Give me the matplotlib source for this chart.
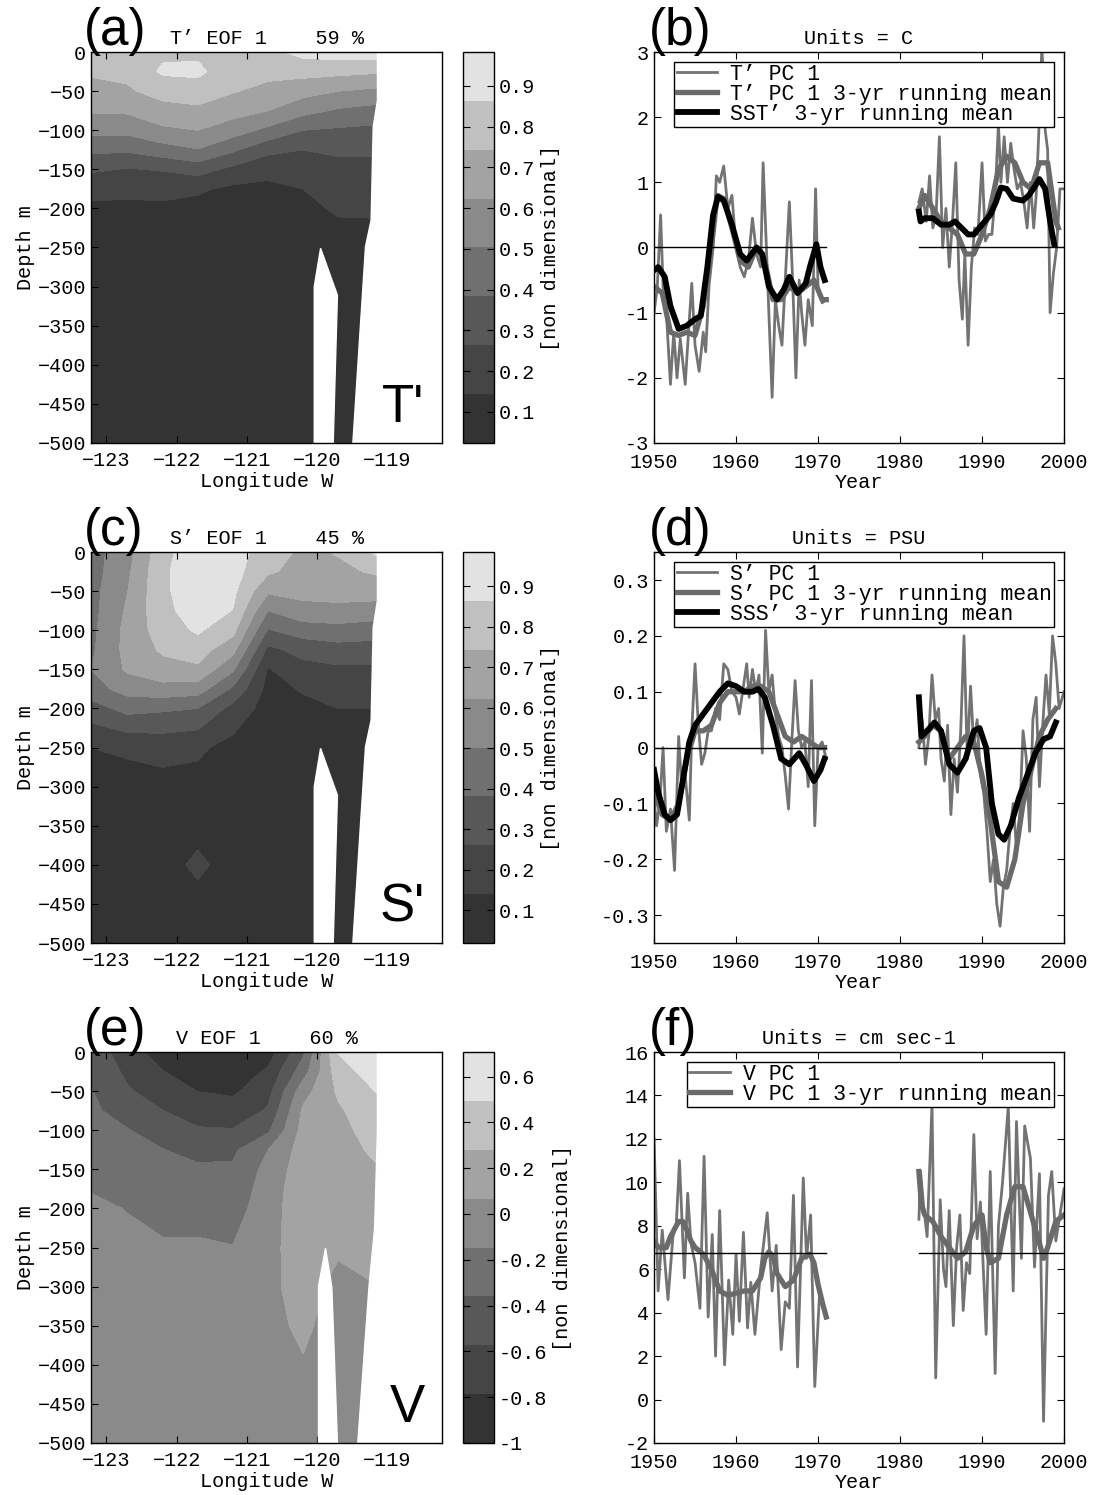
import numpy as np
import matplotlib
matplotlib.use('Agg')
import matplotlib.pyplot as plt

plt.rcParams['font.family'] = ['Liberation Mono', 'DejaVu Sans Mono']
plt.rcParams['font.size'] = 14.5
plt.rcParams['axes.linewidth'] = 1.0

# ---------------- secciones (EOF 1) ----------------
lon = [-123.22, -122.7, -122.2, -121.7, -121.2, -120.7, -120.2, -119.7, -119.1]
dep = [0, -25, -50, -75, -100, -125, -150, -175, -200, -250, -300, -350, -400, -450, -500]

# columnas por longitud, filas por profundidad
eof_t = np.array([
    [.80, .759, .703, .639, .540, .411, .280, .182, .12, .07, .05, .045, .04, .035, .03],
    [.81, .773, .727, .641, .538, .402, .257, .171, .12, .07, .05, .045, .04, .035, .03],
    [.84, .881, .789, .698, .601, .453, .272, .182, .12, .07, .05, .045, .04, .035, .03],
    [.84, .890, .805, .718, .624, .498, .314, .160, .11, .07, .05, .045, .04, .035, .03],
    [.82, .785, .751, .671, .559, .404, .234, .12, .09, .06, .05, .045, .04, .035, .03],
    [.83, .776, .710, .624, .474, .297, .175, .12, .10, .07, .05, .045, .04, .035, .03],
    [.90, .784, .664, .542, .384, .264, .204, .144, .12, .08, .06, .045, .04, .035, .03],
    [.92, .776, .624, .488, .367, .281, .233, .195, .156, .10, .07, .05, .04, .035, .03],
    [.93, .757, .594, .456, .354, .280, .234, .197, .159, .10, .07, .05, .04, .035, .03],
]).T

eof_s = np.array([
    [.45, .45, .46, .46, .47, .48, .50, .45, .33, .14, .08, .07, .06, .06, .05],
    [.58, .60, .62, .64, .66, .66, .64, .55, .42, .16, .09, .08, .07, .06, .05],
    [.82, .84, .84, .83, .80, .76, .70, .58, .40, .18, .10, .09, .08, .07, .06],
    [.95, .95, .94, .92, .88, .80, .72, .56, .38, .16, .10, .09, .17, .09, .07],
    [.92, .91, .89, .86, .78, .66, .52, .36, .22, .10, .08, .08, .08, .07, .06],
    [.80, .76, .64, .50, .37, .23, .13, .10, .09, .07, .06, .06, .05, .05, .05],
    [.72, .70, .66, .58, .44, .30, .22, .15, .11, .08, .06, .05, .05, .05, .05],
    [.75, .72, .68, .58, .46, .33, .24, .18, .14, .10, .07, .06, .05, .05, .05],
    [.90, .76, .68, .56, .44, .32, .24, .18, .14, .10, .07, .06, .05, .05, .05],
]).T

eof_v = np.array([
    [-.45, -.40, -.35, -.32, -.30, -.28, -.25, -.16, -.10, -.06, -.05, -.05, -.04, -.04, -.04],
    [-.68, -.62, -.55, -.45, -.35, -.30, -.25, -.20, -.155, -.09, -.06, -.05, -.05, -.04, -.04],
    [-.90, -.78, -.68, -.57, -.46, -.355, -.32, -.28, -.22, -.12, -.08, -.06, -.05, -.05, -.04],
    [-.98, -.90, -.79, -.68, -.55, -.42, -.33, -.29, -.22, -.12, -.08, -.06, -.05, -.05, -.04],
    [-1.0, -.93, -.82, -.70, -.56, -.40, -.33, -.29, -.24, -.14, -.09, -.06, -.05, -.05, -.04],
    [-.90, -.75, -.65, -.55, -.40, -.15, -.08, -.04, -.02, 0.0, .01, 0.0, -.02, -.04, -.05],
    [-.40, -.25, -.02, .10, .14, .16, .18, .19, .19, .18, .16, .11, .05, .02, 0.0],
    [.50, .40, .31, .25, .22, .20, .18, .16, .15, .10, 0.0, -.03, -.05, -.05, -.05],
    [.70, .62, .52, .45, .38, .33, .275, .24, .21, .12, .067, .03, 0.0, -.02, -.03],
]).T

rango_t = (0.024, 0.983)
rango_s = (0.019, 0.984)
rango_v = (-1.0, 0.707)
ticks_cb_ts = [0.1, 0.2, 0.3, 0.4, 0.5, 0.6, 0.7, 0.8, 0.9]
ticks_cb_v = [-1, -0.8, -0.6, -0.4, -0.2, 0, 0.2, 0.4, 0.6]

# fondo (costa y canal) en blanco
costa_lon = [-119.14, -119.14, -119.20, -119.23, -119.31, -119.49, -118.0, -118.0]
costa_dep = [0, -62, -96, -215, -249, -500, -500, 0]
canal_lon = [-120.04, -120.04, -119.95, -119.71, -119.77]
canal_dep = [-500, -300, -251, -311, -500]
costa_lon_v = [-119.14, -119.14, -119.18, -119.26, -119.42, -118.0, -118.0]
costa_dep_v = [0, -100, -225, -300, -500, -500, 0]
canal_lon_v = [-119.98, -119.98, -119.88, -119.79, -119.71]
canal_dep_v = [-500, -300, -251, -300, -500]

grises = ['#333333', '#454545', '#585858', '#707070', '#8a8a8a', '#a3a3a3', '#c0c0c0', '#e2e2e2']

# ---------------- series temporales (PC 1) ----------------
t_raw1 = [1950.0, 1950.4, 1950.8, 1951.1, 1951.5, 1952.0, 1952.4, 1952.8, 1953.2, 1953.8, 1954.2,
          1954.6, 1955.0, 1955.5, 1956.0, 1956.3, 1956.7, 1957.2, 1957.6, 1958.0, 1958.5, 1959.0,
          1959.5, 1960.0, 1960.5, 1961.0, 1961.5, 1962.0, 1962.5, 1963.0, 1963.3, 1963.7, 1964.0,
          1964.4, 1964.8, 1965.2, 1965.6, 1966.0, 1966.5, 1966.9, 1967.3, 1967.7, 1968.0, 1968.4,
          1968.8, 1969.3, 1969.7, 1970.0, 1970.5, 1971.0]
T_raw1 = [-1.0, -0.6, 0.5, -0.6, -1.0, -2.1, -1.3, -2.0, -1.4, -2.1, -1.3, -0.55, -1.5, -1.9,
          -1.3, -1.6, -0.6, 0.0, 1.1, 1.0, 1.25, 0.6, 0.8, 0.0, -0.3, -0.45, -0.2, 0.45, -0.1,
          -0.3, 1.3, 0.0, -1.0, -2.3, -0.8, -1.2, -1.5, -0.5, 0.7, -0.5, -2.0, -0.5, -1.0, -1.5,
          -0.8, -1.2, 0.9, -0.6, -0.85, -0.8]
t_raw2 = [1982.3, 1982.7, 1983.2, 1983.6, 1984.0, 1984.4, 1984.8, 1985.2, 1985.6, 1986.0,
          1986.4, 1986.8, 1987.2, 1987.6, 1987.9, 1988.3, 1988.7, 1989.1, 1989.5, 1990.0,
          1990.4, 1990.8, 1991.2, 1991.6, 1992.0, 1992.3, 1992.7, 1993.1, 1993.5, 1993.9,
          1994.3, 1994.7, 1995.1, 1995.5, 1995.9, 1996.3, 1996.6, 1997.0, 1997.3, 1997.7,
          1998.0, 1998.3, 1998.7, 1999.1, 1999.5, 2000.0]
T_raw2 = [0.7, 0.9, 0.4, 1.1, 0.3, 0.5, 1.7, 0.0, 0.6, -0.3, 0.4, 1.3, -0.5, -1.1, -0.1, -1.5,
          -0.3, 0.3, 0.2, 1.3, 0.1, 0.2, 0.2, 0.8, 1.9, 1.0, 1.7, 1.0, 1.6, 1.2, 0.9, 1.0, 0.7,
          0.3, 1.0, 0.3, 0.8, 2.0, 3.1, 1.8, 1.5, -1.0, -0.4, 0.0, 0.9, 0.9]

t_rm1 = [1950.0, 1951.0, 1952.0, 1953.0, 1954.0, 1955.0, 1956.0, 1957.0, 1957.7, 1958.5, 1959.5,
         1960.5, 1961.5, 1962.5, 1963.5, 1964.5, 1965.5, 1966.5, 1967.5, 1968.5, 1969.5, 1970.5,
         1971.0]
T_rm1 = [-0.6, -0.7, -1.3, -1.35, -1.3, -1.35, -0.9, 0.0, 0.8, 0.75, 0.3, -0.2, -0.3, 0.0, -0.2,
         -0.8, -0.8, -0.6, -0.7, -0.6, -0.5, -0.8, -0.8]
t_rm2 = [1982.3, 1983.0, 1984.0, 1985.0, 1986.0, 1987.0, 1988.0, 1989.0, 1990.0, 1991.0, 1992.0,
         1993.0, 1994.0, 1995.0, 1996.0, 1997.0, 1998.0, 1999.0, 1999.3]
T_rm2 = [0.6, 0.8, 0.6, 0.4, 0.3, 0.2, -0.1, -0.1, 0.2, 0.6, 1.2, 1.4, 1.3, 1.0, 0.9, 1.3, 1.3,
         0.4, 0.3]

t_sst1 = [1950.0, 1950.5, 1951.3, 1952.0, 1953.0, 1954.0, 1955.0, 1955.7, 1956.5, 1957.2, 1957.8,
          1958.5, 1959.5, 1960.5, 1961.3, 1962.5, 1963.2, 1964.0, 1965.0, 1965.8, 1966.5, 1967.5,
          1968.5, 1969.0, 1969.8, 1970.3, 1970.8]
SST_rm1 = [-0.35, -0.3, -0.45, -0.9, -1.25, -1.2, -1.1, -1.05, -0.3, 0.5, 0.78, 0.72, 0.35, -0.1,
           -0.2, 0.0, -0.1, -0.6, -0.8, -0.65, -0.45, -0.7, -0.55, -0.3, 0.05, -0.3, -0.5]
t_sst2 = [1982.3, 1982.5, 1983.0, 1984.0, 1985.0, 1986.0, 1986.7, 1987.5, 1988.3, 1989.0, 1990.0,
          1991.0, 1991.7, 1992.3, 1993.0, 1993.8, 1995.0, 1995.7, 1996.5, 1997.0, 1997.7, 1998.3,
          1998.8]
SST_rm2 = [0.55, 0.4, 0.45, 0.45, 0.35, 0.35, 0.4, 0.3, 0.2, 0.2, 0.35, 0.5, 0.7, 0.92, 0.9, 0.75,
           0.72, 0.8, 0.95, 1.05, 0.9, 0.4, 0.05]

t_sraw1 = [1950.0, 1950.3, 1950.7, 1951.1, 1951.5, 1952.0, 1952.5, 1953.0, 1953.4, 1953.8, 1954.3,
           1954.6, 1955.0, 1955.4, 1955.8, 1956.2, 1956.6, 1957.0, 1957.5, 1958.0, 1958.5, 1959.0,
           1959.5, 1960.0, 1960.4, 1960.8, 1961.3, 1961.6, 1962.0, 1962.4, 1962.8, 1963.2, 1963.6,
           1964.0, 1964.4, 1964.8, 1965.2, 1965.6, 1966.0, 1966.4, 1966.8, 1967.2, 1967.6, 1968.0,
           1968.4, 1968.8, 1969.2, 1969.6, 1970.0, 1970.5, 1971.0]
S_raw1 = [-0.09, -0.14, -0.1, 0.0, -0.15, -0.11, -0.22, 0.02, -0.08, -0.05, -0.13, 0.03, 0.15,
          0.04, -0.03, -0.01, 0.03, 0.03, 0.07, 0.05, 0.15, 0.14, 0.1, 0.09, 0.06, 0.1, 0.15, 0.09,
          0.14, 0.1, 0.13, -0.01, 0.21, 0.1, 0.13, 0.06, 0.02, 0.0, -0.05, -0.11, 0.01, 0.12, 0.03,
          0.0, 0.01, -0.07, 0.12, -0.14, 0.0, 0.01, -0.02]
t_sraw2 = [1982.3, 1982.7, 1983.1, 1983.5, 1983.9, 1984.3, 1984.7, 1985.0, 1985.4, 1985.8, 1986.2,
           1986.6, 1987.0, 1987.4, 1987.8, 1988.2, 1988.6, 1989.0, 1989.4, 1989.8, 1990.2, 1990.6,
           1991.0, 1991.4, 1991.8, 1992.2, 1992.6, 1993.0, 1993.4, 1993.8, 1994.2, 1994.6, 1995.0,
           1995.4, 1995.8, 1996.2, 1996.6, 1997.0, 1997.4, 1997.8, 1998.2, 1998.6, 1999.0, 1999.4,
           2000.0]
S_raw2 = [0.0, 0.05, -0.03, 0.02, 0.13, 0.05, 0.07, -0.02, -0.06, 0.04, -0.12, -0.02, -0.08, 0.03,
          0.2, -0.02, 0.11, 0.0, 0.05, -0.05, -0.08, -0.15, -0.24, -0.2, -0.28, -0.32, -0.25, -0.22,
          -0.15, -0.1, -0.18, -0.12, 0.03, -0.02, -0.15, 0.05, 0.09, -0.07, 0.04, 0.13, 0.06, 0.2,
          0.15, 0.07, 0.1]

t_srm1 = [1950.0, 1951.0, 1952.0, 1953.0, 1954.0, 1955.0, 1956.0, 1957.0, 1958.0, 1959.0, 1960.0,
          1961.0, 1962.0, 1963.0, 1964.0, 1965.0, 1966.0, 1967.0, 1968.0, 1969.0, 1970.0, 1970.8]
S_rm1 = [-0.08, -0.12, -0.13, -0.1, -0.02, 0.03, 0.03, 0.04, 0.08, 0.1, 0.1, 0.1, 0.11, 0.11, 0.1,
         0.06, 0.02, 0.01, 0.02, 0.01, 0.0, 0.0]
t_srm2 = [1982.3, 1983.0, 1984.0, 1985.0, 1986.0, 1987.0, 1988.0, 1989.0, 1990.0, 1991.0, 1992.0,
          1993.0, 1994.0, 1995.0, 1996.0, 1997.0, 1998.0, 1999.0]
S_rm2 = [0.01, 0.02, 0.04, 0.03, -0.02, 0.0, 0.02, 0.01, -0.05, -0.13, -0.24, -0.25, -0.2, -0.1,
         -0.04, 0.02, 0.05, 0.07]

t_sss1 = [1950.0, 1950.5, 1951.3, 1952.0, 1952.8, 1953.5, 1954.3, 1955.0, 1956.0, 1957.0, 1958.0,
          1959.0, 1960.0, 1961.0, 1962.0, 1962.7, 1963.5, 1964.5, 1965.5, 1966.5, 1967.7, 1968.5,
          1969.5, 1970.3, 1970.8]
SSS_rm1 = [-0.04, -0.08, -0.12, -0.13, -0.12, -0.06, 0.01, 0.04, 0.06, 0.08, 0.1, 0.115, 0.11, 0.1,
           0.1, 0.105, 0.09, 0.04, -0.02, -0.03, -0.01, -0.03, -0.06, -0.04, -0.02]
t_sss2 = [1982.3, 1982.6, 1983.3, 1984.2, 1985.0, 1986.0, 1987.0, 1988.0, 1989.0, 1989.7, 1990.5,
          1991.2, 1992.0, 1992.7, 1993.5, 1994.5, 1995.5, 1996.5, 1997.5, 1998.3, 1999.0]
SSS_rm2 = [0.09, 0.02, 0.03, 0.045, 0.03, -0.03, -0.045, -0.02, 0.03, 0.035, 0.0, -0.1, -0.155,
           -0.165, -0.14, -0.09, -0.05, -0.01, 0.015, 0.02, 0.045]

t_vraw1 = [1950.0, 1950.5, 1951.0, 1951.7, 1952.3, 1952.7, 1953.1, 1953.7, 1954.1, 1954.5, 1955.0,
           1955.6, 1956.1, 1956.6, 1957.1, 1957.5, 1958.0, 1958.6, 1959.1, 1959.6, 1960.0, 1960.4,
           1960.9, 1961.4, 1961.8, 1962.3, 1963.0, 1963.8, 1964.4, 1964.9, 1965.5, 1966.0, 1966.5,
           1967.0, 1967.5, 1968.2, 1968.6, 1969.1, 1969.6, 1970.2, 1970.8]
V_raw1 = [12.0, 5.0, 7.8, 4.6, 7.5, 8.0, 11.0, 5.6, 9.5, 7.2, 6.3, 4.2, 11.2, 3.8, 7.6, 2.0, 8.7,
          1.6, 5.5, 3.0, 6.7, 3.6, 7.7, 3.3, 5.4, 3.0, 6.0, 8.6, 5.0, 7.1, 2.3, 4.5, 4.2, 9.4, 1.5,
          10.2, 6.5, 8.5, 0.6, 5.0, 4.0]
t_vraw2 = [1982.3, 1982.5, 1982.9, 1983.3, 1983.9, 1984.35, 1984.9, 1985.3, 1985.6, 1986.0,
           1986.5, 1986.9, 1987.3, 1987.7, 1988.1, 1988.5, 1989.0, 1989.4, 1989.8, 1990.5, 1991.0,
           1991.6, 1992.0, 1992.5, 1993.2, 1993.8, 1994.2, 1994.8, 1995.2, 1995.9, 1996.4,
           1997.0, 1997.5, 1998.1, 1998.5, 1999.0, 2000.0]
V_raw2 = [8.3, 10.5, 8.8, 7.5, 13.6, 1.0, 9.2, 6.0, 5.2, 8.7, 3.4, 7.0, 8.5, 4.1, 6.3, 5.8, 12.2,
          7.4, 9.1, 3.0, 10.5, 1.2, 8.0, 10.0, 13.5, 5.0, 12.8, 6.5, 12.6, 11.1, 6.1, 10.4, -1.0,
          9.4, 10.5, 7.3, 9.7]

t_vrm1 = [1950.0, 1950.5, 1951.0, 1951.5, 1952.0, 1953.0, 1953.5, 1954.0, 1954.5, 1955.0, 1956.0,
          1957.0, 1958.0, 1959.0, 1960.0, 1961.0, 1962.0, 1963.0, 1963.5, 1964.0, 1964.5, 1965.0,
          1966.0, 1967.0, 1968.0, 1969.0, 1969.5, 1970.0, 1970.5, 1971.0]
V_rm1 = [7.3, 7.0, 7.0, 7.0, 7.5, 8.2, 8.2, 7.8, 7.3, 7.0, 6.7, 6.0, 5.0, 4.8, 4.9, 5.0, 5.0, 5.6,
         6.5, 6.8, 6.6, 5.8, 5.2, 5.5, 6.5, 6.7, 6.3, 5.3, 4.5, 3.8]
t_vrm2 = [1982.3, 1982.6, 1983.0, 1984.0, 1985.0, 1986.0, 1987.0, 1988.0, 1989.0, 1990.0, 1990.5,
          1991.0, 1992.0, 1993.0, 1994.0, 1995.0, 1996.0, 1997.0, 1997.5, 1998.0, 1999.0, 2000.0]
V_rm2 = [10.5, 9.0, 8.5, 8.2, 7.5, 7.0, 6.5, 6.8, 8.0, 8.5, 7.0, 6.3, 6.5, 8.5, 9.8, 9.8, 8.5, 7.2,
         6.5, 7.0, 8.2, 8.5]

# linea de referencia (cero o media) sobre los periodos con datos
periodos = [(1950.0, 1971.0), (1982.3, 2000.0)]
ref_t = 0.0
ref_s = 0.0
ref_v = 6.75

col_raw = '#737373'
col_rm = '#6a6a6a'


def unir(t1, y1, t2, y2):
    # junta dos tramos con un hueco (nan)
    return (np.concatenate([t1, [np.nan], t2]), np.concatenate([y1, [np.nan], y2]))


fig = plt.figure(figsize=(10.93, 14.95), dpi=100)

fondos = [0.7037, 0.3692, 0.0348]
alto = 0.2615


def seccion(bottom, campo, rango, ticks_cb, costa, canal, titulo, letra, marca):
    ax = fig.add_axes([0.0833, bottom, 0.3211, alto])
    cax = fig.add_axes([0.4236, bottom, 0.0284, alto])
    niveles = np.linspace(rango[0], rango[1], 9)
    cs = ax.contourf(lon, dep, campo, levels=niveles, colors=grises)
    ax.fill(costa[0], costa[1], color='white', zorder=2)
    ax.fill(canal[0], canal[1], color='white', zorder=2)
    ax.set_xlim(-123.22, -118.22)
    ax.set_ylim(-500, 0)
    ax.set_xticks([-123, -122, -121, -120, -119])
    ax.set_yticks(np.arange(-500, 1, 50))
    ax.tick_params(direction='in', top=True, right=True, length=5, labelsize=14.5)
    ax.tick_params(axis='x', pad=6)
    ax.set_xlabel('Longitude W', fontsize=14.5, labelpad=1)
    ax.set_ylabel('Depth m', fontsize=14.5, labelpad=2)
    ax.set_title(titulo, fontsize=14.5, pad=6)
    ax.text(0.95, 0.054, marca, transform=ax.transAxes, ha='right', va='baseline',
            fontsize=38, family='Liberation Sans', zorder=3)
    cb = fig.colorbar(cs, cax=cax, ticks=ticks_cb)
    cb.ax.set_yticklabels(['%g' % v for v in ticks_cb])
    cb.ax.tick_params(direction='in', left=True, right=True, length=5, labelsize=14.5)
    cb.outline.set_linewidth(1.0)
    cb.set_label('[non dimensional]', fontsize=14.5, labelpad=4)
    fig.text(0.077, bottom + alto + 0.005, letra, fontsize=37, family='Liberation Sans',
             va='baseline', ha='left')
    return ax


def serie(bottom, raw, rm, otro, ref, ylim, yticks, titulo, letra, etiquetas):
    ax = fig.add_axes([0.5984, bottom, 0.3751, alto])
    lineas = []
    l1, = ax.plot(raw[0], raw[1], color=col_raw, lw=2.0)
    lineas.append(l1)
    l2, = ax.plot(rm[0], rm[1], color=col_rm, lw=3.8)
    lineas.append(l2)
    if otro is not None:
        l3, = ax.plot(otro[0], otro[1], color='black', lw=4.2)
        lineas.append(l3)
    for a, b in periodos:
        ax.plot([a, b], [ref, ref], color='black', lw=1.0)
    ax.set_xlim(1950, 2000)
    ax.set_ylim(*ylim)
    ax.set_xticks([1950, 1960, 1970, 1980, 1990, 2000])
    ax.set_yticks(yticks)
    ax.set_yticklabels(['%g' % v for v in yticks])
    ax.tick_params(direction='in', top=True, right=True, length=5, labelsize=14.5)
    ax.tick_params(axis='x', pad=7)
    ax.set_xlabel('Year', fontsize=14.5, labelpad=1)
    ax.set_title(titulo, fontsize=14.5, pad=6)
    leg = ax.legend(lineas, etiquetas, loc='upper right', fontsize=15.5, fancybox=False,
                    framealpha=1, edgecolor='black', borderaxespad=0.45, borderpad=0.1,
                    labelspacing=-0.05, handlelength=1.9, handletextpad=0.6)
    leg.get_frame().set_linewidth(1.0)
    fig.text(0.594, bottom + alto + 0.005, letra, fontsize=37, family='Liberation Sans',
             va='baseline', ha='left')
    return ax


seccion(fondos[0], eof_t, rango_t, ticks_cb_ts, (costa_lon, costa_dep), (canal_lon, canal_dep),
        'T\u2019 EOF 1    59 %', '(a)', "T'")
seccion(fondos[1], eof_s, rango_s, ticks_cb_ts, (costa_lon, costa_dep), (canal_lon, canal_dep),
        'S\u2019 EOF 1    45 %', '(c)', "S'")
seccion(fondos[2], eof_v, rango_v, ticks_cb_v, (costa_lon_v, costa_dep_v),
        (canal_lon_v, canal_dep_v), 'V EOF 1    60 %', '(e)', 'V')

serie(fondos[0], unir(t_raw1, T_raw1, t_raw2, T_raw2), unir(t_rm1, T_rm1, t_rm2, T_rm2),
      unir(t_sst1, SST_rm1, t_sst2, SST_rm2), ref_t, (-3, 3), [-3, -2, -1, 0, 1, 2, 3],
      'Units = C', '(b)',
      ['T\u2019 PC 1', 'T\u2019 PC 1 3-yr running mean', 'SST\u2019 3-yr running mean'])
serie(fondos[1], unir(t_sraw1, S_raw1, t_sraw2, S_raw2), unir(t_srm1, S_rm1, t_srm2, S_rm2),
      unir(t_sss1, SSS_rm1, t_sss2, SSS_rm2), ref_s, (-0.35, 0.35),
      [-0.3, -0.2, -0.1, 0, 0.1, 0.2, 0.3], 'Units = PSU', '(d)',
      ['S\u2019 PC 1', 'S\u2019 PC 1 3-yr running mean', 'SSS\u2019 3-yr running mean'])
serie(fondos[2], unir(t_vraw1, V_raw1, t_vraw2, V_raw2), unir(t_vrm1, V_rm1, t_vrm2, V_rm2),
      None, ref_v, (-2, 16), [-2, 0, 2, 4, 6, 8, 10, 12, 14, 16], 'Units = cm sec-1', '(f)',
      ['V PC 1', 'V PC 1 3-yr running mean'])

fig.savefig('out.png', dpi=100)
